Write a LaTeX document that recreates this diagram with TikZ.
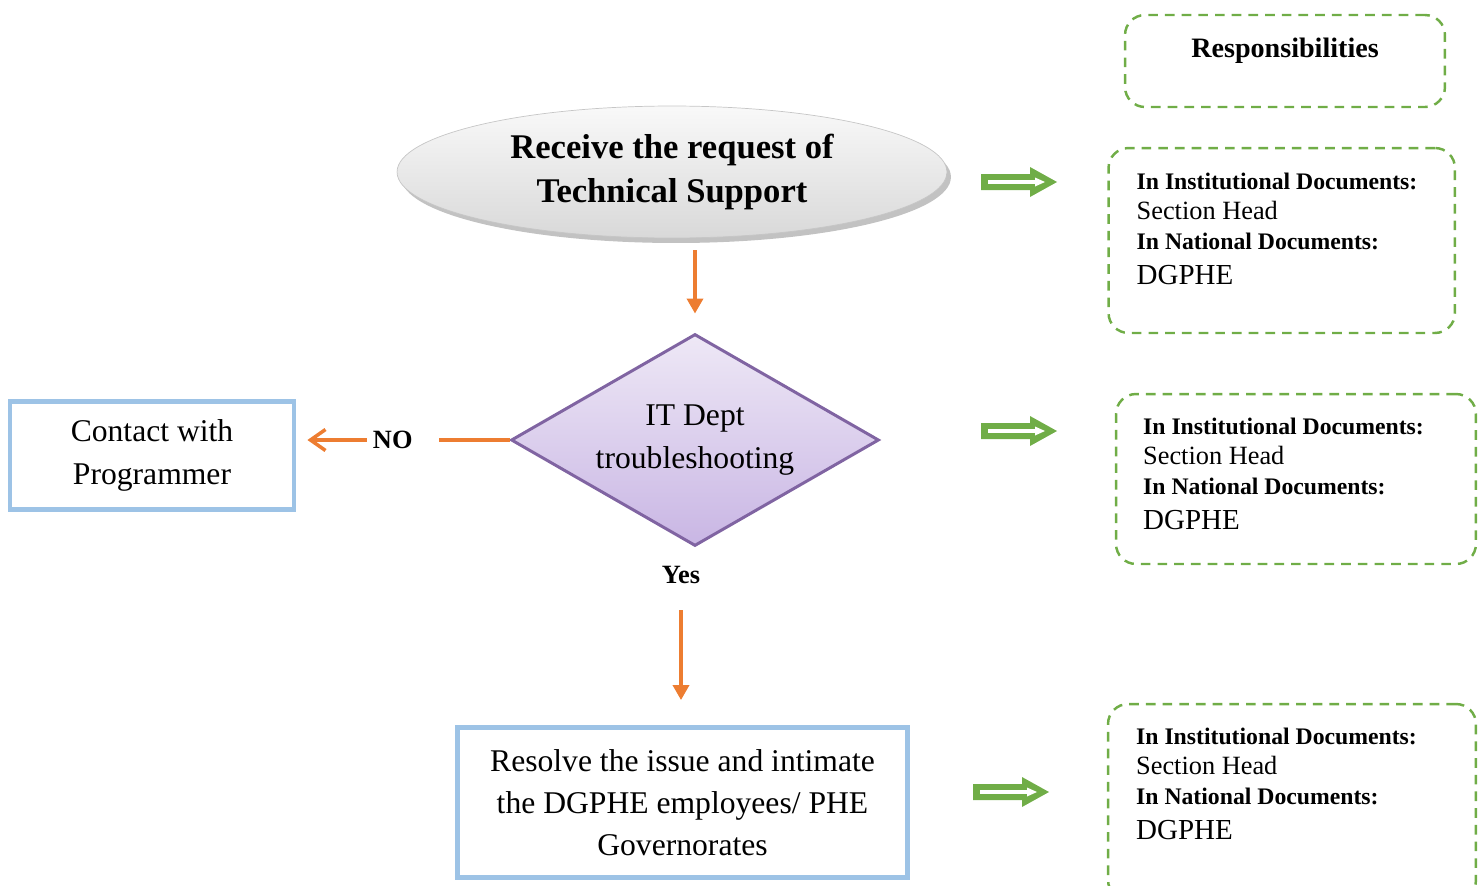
\documentclass[tikz,border=0pt]{standalone}
\usepackage{fontspec}
\setmainfont{Liberation Serif}
\usetikzlibrary{shapes.geometric, arrows.meta, positioning, calc, shadows}

\definecolor{flowOrange}{HTML}{ED7D31}
\definecolor{boxBlue}{HTML}{9DC3E6}
\definecolor{respGreen}{HTML}{70AD47}
\definecolor{diaLine}{HTML}{8064A2}
\definecolor{diaTop}{HTML}{EEE8F6}
\definecolor{diaBottom}{HTML}{C9B6E4}

\tikzstyle{startblock} = [ellipse, minimum width=11cm, minimum height=2.64cm, inner sep=0pt, top color=gray!5, bottom color=gray!30, draw=gray!45, line width=0.4pt, drop shadow={shadow xshift=0.08cm, shadow yshift=-0.1cm, fill=gray!80, opacity=0.6}, align=center, font=\fontsize{19.7}{25.5}\selectfont\bfseries]
\tikzstyle{decision} = [diamond, aspect=1.74, minimum width=7.36cm, minimum height=4.24cm, inner sep=0pt, draw=diaLine, line width=1.7pt, top color=diaTop, bottom color=diaBottom, align=center, font=\fontsize{18}{24}\selectfont]
\tikzstyle{textblock} = [draw=boxBlue, line width=2.8pt, align=center, font=\fontsize{18}{24}\selectfont]
\tikzstyle{respblock} = [draw=respGreen, line width=1.4pt, dash pattern=on 5.5pt off 4pt, rounded corners=0.4cm]
\tikzstyle{resptext} = [anchor=north west, inner sep=0pt, align=left, font=\fontsize{13.5}{17}\selectfont]
\tikzstyle{labeltext} = [font=\fontsize{15}{18}\selectfont\bfseries, inner sep=0pt]
\tikzstyle{arrow} = [draw=flowOrange, line width=2pt, -{Triangle[length=0.3cm, width=0.32cm]}]

\newcommand{\respLines}{\textbf{In Institutional Documents:}\\{\fontsize{15}{17}\selectfont Section Head}\\\textbf{In National Documents:}\\[3pt]{\fontsize{16.5}{17}\selectfont DGPHE}}

\newcommand{\respArrow}[1]{%
    \begin{scope}[shift={#1}]
        \fill[respGreen] (0,-8) -- (49,-8) -- (49,-15) -- (76,0) -- (49,15) -- (49,8) -- (0,8) -- cycle;
        \draw[white, line width=2pt] (7,0) -- (56,0);
        \fill[white] (54,-4.5) -- (64,0) -- (54,4.5) -- cycle;
    \end{scope}}

\begin{document}
\begin{tikzpicture}[x=0.02cm, y=-0.02cm]
        \useasboundingbox (0,0) rectangle (1482,886);

        % Flow
        \node[startblock] (request) at (672,172) {Receive the request of\\Technical Support};
        \node[decision] (itdept) at (695,440) {IT Dept\\troubleshooting};
        \node[textblock, minimum width=5.68cm, minimum height=2.16cm] (contact) at (152,455.5) {Contact with\\Programmer};
        \node[labeltext] (yes) at (681,575) {Yes};
        \node[textblock, minimum width=9cm, minimum height=3cm] (resolve) at (682.5,802.5) {Resolve the issue and intimate\\the DGPHE employees/ PHE\\Governorates};

        % Responsibilities
        \node[respblock, minimum width=6.4cm, inner sep=0pt, text height=0.84cm, text depth=1.0cm, font=\fontsize{16}{19}\selectfont\bfseries] (resphead) at (1285,61) {Responsibilities};

        \node[respblock, minimum width=6.93cm, minimum height=3.7cm] (resp1) at (1281.75,240.5) {};
        \node[resptext] (resp1text) at ([xshift=0.58cm, yshift=-0.52cm]resp1.north west) {\respLines};

        \node[respblock, minimum width=7.2cm, minimum height=3.4cm] (resp2) at (1296,479) {};
        \node[resptext] (resp2text) at ([xshift=0.56cm, yshift=-0.5cm]resp2.north west) {\respLines};

        \node[respblock, minimum width=7.36cm, minimum height=3.92cm] (resp3) at (1292,802) {};
        \node[resptext] (resp3text) at ([xshift=0.58cm, yshift=-0.5cm]resp3.north west) {\respLines};

        \respArrow{(981,182)}
        \respArrow{(981,431)}
        \respArrow{(973,792)}

        % Arrows
        \draw[arrow, shorten <=0.24cm, shorten >=0.38cm] (itdept.north |- request.south) -- (itdept.north);
        \draw[arrow, -{Straight Barb[length=0.3cm, width=0.42cm]}, shorten >=0.22cm] (itdept.west) -- node[labeltext, fill=white, inner xsep=0.12cm, inner ysep=2pt, text width=1.2cm, align=left] {NO} (itdept.west -| contact.east);
        \draw[arrow, shorten <=0.52cm, shorten >=0.5cm] (yes.south) -- (yes.south |- resolve.north);
    \end{tikzpicture}
\end{document}
